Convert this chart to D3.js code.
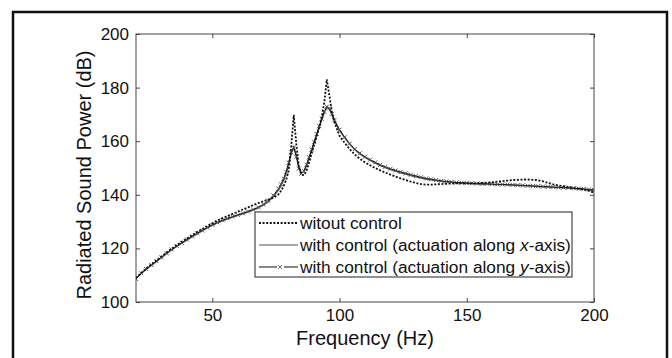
<!DOCTYPE html>
<html>
<head>
<meta charset="utf-8">
<script src="https://cdn.jsdelivr.net/npm/d3@7"></script>
<style>
  body { margin: 0; background: #fff; }
  svg { display: block; font-family: "Liberation Sans", Arial, sans-serif; }
</style>
</head>
<body>
<div id="chart"></div>
<script>
// frequency points (Hz)
const freq = [20,22,24,26,28,30,32,34,36,38,40,42,44,46,48,50,52,54,56,58,60,62,64,66,68,70,72,74,76,
  77,78,79,80,81,82,83,84,85,86,87,88,89,90,91,92,93,94,95,96,97,98,
  100,102,104,106,108,110,112,114,116,118,120,122,124,126,128,130,132,134,136,138,
  140,142,144,146,148,150,152,154,156,158,160,162,164,166,168,170,172,174,176,178,
  180,182,184,186,188,190,192,194,196,198,200];

// without control (dotted)
const noCtrl = [108.9,110.8,112.5,114.0,115.5,117.0,118.5,119.9,121.2,122.5,123.7,124.9,126.1,127.2,128.3,129.4,130.4,131.3,132.1,132.9,133.7,134.5,135.3,136.1,136.9,137.6,138.2,138.9,140.2,
  141.5,143.2,145.5,149.0,158.0,169.8,159.0,150.5,147.5,147.3,149.0,152.0,155.3,158.5,161.8,165.2,169.0,174.5,183.1,177.0,171.0,167.0,
  162.0,159.4,157.0,155.0,153.4,152.1,151.0,150.0,149.1,148.3,147.5,146.8,146.1,145.5,144.9,144.4,144.0,143.8,143.8,143.9,
  144.0,144.1,144.2,144.3,144.3,144.3,144.3,144.3,144.4,144.5,144.7,144.9,145.1,145.3,145.5,145.6,145.7,145.7,145.6,145.4,
  145.0,144.4,143.9,143.5,143.2,142.9,142.6,142.3,142.0,141.5,140.8];

// with control, actuation along x-axis
const ctrlX = [108.8,110.5,112.1,113.6,115.0,116.5,118.0,119.4,120.7,121.9,123.1,124.3,125.4,126.5,127.6,128.6,129.5,130.3,131.0,131.7,132.3,132.9,133.6,134.3,135.1,136.1,137.4,139.3,141.8,
  143.4,145.4,148.0,151.5,155.3,158.0,155.0,150.5,148.2,148.6,150.8,153.6,156.5,159.4,162.3,165.2,168.0,170.6,172.6,172.0,169.8,167.5,
  164.0,161.2,158.8,156.8,155.2,153.9,152.8,151.8,150.9,150.1,149.4,148.8,148.2,147.7,147.2,146.7,146.3,145.9,145.6,145.3,
  145.0,144.8,144.6,144.5,144.4,144.3,144.2,144.1,144.0,144.0,143.9,143.8,143.8,143.7,143.6,143.5,143.4,143.3,143.2,143.1,
  143.0,142.9,142.8,142.7,142.6,142.5,142.3,142.2,142.0,141.8,141.6];

// with control, actuation along y-axis
const ctrlY = [108.6,110.7,112.3,113.8,115.3,116.7,118.2,119.6,120.9,122.1,123.3,124.5,125.6,126.7,127.8,128.8,129.7,130.5,131.2,131.9,132.5,133.1,133.8,134.5,135.3,136.4,137.8,139.8,142.3,
  143.9,146.0,148.6,152.0,155.8,157.6,154.2,149.8,147.9,148.9,151.2,154.0,156.9,159.8,162.7,165.6,168.4,171.0,172.9,172.3,170.2,167.9,
  164.3,161.5,159.1,157.1,155.5,154.2,153.1,152.1,151.2,150.4,149.7,149.1,148.5,148.0,147.5,147.0,146.5,146.1,145.8,145.5,
  145.2,145.0,144.8,144.6,144.5,144.4,144.3,144.2,144.1,144.1,144.0,143.9,143.9,143.8,143.7,143.6,143.5,143.4,143.3,143.2,
  143.1,143.0,142.9,142.8,142.7,142.6,142.5,142.3,142.2,142.0,141.8];

const xTicks = [50, 100, 150, 200];
const yTicks = [100, 120, 140, 160, 180, 200];
const legendLabels = ["witout control", "with control (actuation along ", "with control (actuation along "];

const width = 672, height = 358;
const margin = {left: 136, top: 34, right: 78, bottom: 56};

const svg = d3.select("#chart").append("svg")
  .attr("width", width)
  .attr("height", height);

// outer frame
svg.append("rect")
  .attr("x", 13).attr("y", 12)
  .attr("width", 654).attr("height", 360)
  .attr("fill", "none")
  .attr("stroke", "#111")
  .attr("stroke-width", 2.5);

const x = d3.scaleLinear().domain([20, 200]).range([margin.left, width - margin.right]);
const y = d3.scaleLinear().domain([100, 200]).range([height - margin.bottom, margin.top]);

svg.append("clipPath").attr("id", "plot")
  .append("rect")
  .attr("x", x(20)).attr("y", y(200))
  .attr("width", x(200) - x(20)).attr("height", y(100) - y(200));

// axes, ticks inward on all four sides
svg.append("g")
  .attr("transform", `translate(0,${y(100)})`)
  .call(d3.axisBottom(x).tickValues(xTicks).tickSize(-4).tickPadding(7))
  .call(a => a.select(".domain").remove());
svg.append("g")
  .attr("transform", `translate(0,${y(200)})`)
  .call(d3.axisTop(x).tickValues(xTicks).tickSize(-4).tickFormat(""))
  .call(a => a.select(".domain").remove());
svg.append("g")
  .attr("transform", `translate(${x(20)},0)`)
  .call(d3.axisLeft(y).tickValues(yTicks).tickSize(-4).tickPadding(7))
  .call(a => a.select(".domain").remove());
svg.append("g")
  .attr("transform", `translate(${x(200)},0)`)
  .call(d3.axisRight(y).tickValues(yTicks).tickSize(-4).tickFormat(""))
  .call(a => a.select(".domain").remove());

svg.selectAll(".tick line").attr("stroke", "#444");
svg.selectAll(".tick text")
  .attr("font-size", 17)
  .attr("font-family", "'Liberation Sans', Arial, sans-serif")
  .attr("fill", "#111");

svg.append("rect")
  .attr("x", x(20)).attr("y", y(200))
  .attr("width", x(200) - x(20)).attr("height", y(100) - y(200))
  .attr("fill", "none")
  .attr("stroke", "#444")
  .attr("stroke-width", 1);

// curves
const line = (vals) => d3.line()
  .x((d, i) => x(freq[i]))
  .y(d => y(d))(vals);

const plot = svg.append("g").attr("clip-path", "url(#plot)");

plot.append("path")
  .attr("d", line(ctrlX))
  .attr("fill", "none")
  .attr("stroke", "#555")
  .attr("stroke-width", 1.3);

plot.append("path")
  .attr("d", line(ctrlY))
  .attr("fill", "none")
  .attr("stroke", "#111")
  .attr("stroke-width", 1);

const mk = 2;
const cross = (cx, cy) => `M${cx - mk},${cy - mk}L${cx + mk},${cy + mk}M${cx - mk},${cy + mk}L${cx + mk},${cy - mk}`;
plot.append("g")
  .selectAll("path")
  .data(ctrlY)
  .join("path")
  .attr("d", (d, i) => cross(x(freq[i]), y(d)))
  .attr("stroke", "#555")
  .attr("stroke-width", 1);

plot.append("path")
  .attr("d", line(noCtrl))
  .attr("fill", "none")
  .attr("stroke", "#111")
  .attr("stroke-width", 1.8)
  .attr("stroke-dasharray", "2,1.6");

// legend
const lg = svg.append("g");
lg.append("rect")
  .attr("x", 255).attr("y", 212)
  .attr("width", 317).attr("height", 65)
  .attr("fill", "#fff")
  .attr("stroke", "#222")
  .attr("stroke-width", 1);

const rowY = [223, 245, 267];
lg.append("line")
  .attr("x1", 259).attr("x2", 298).attr("y1", rowY[0]).attr("y2", rowY[0])
  .attr("stroke", "#111").attr("stroke-width", 1.8).attr("stroke-dasharray", "2,1.6");
lg.append("line")
  .attr("x1", 259).attr("x2", 298).attr("y1", rowY[1]).attr("y2", rowY[1])
  .attr("stroke", "#555").attr("stroke-width", 1.2);
lg.append("line")
  .attr("x1", 259).attr("x2", 277).attr("y1", rowY[2]).attr("y2", rowY[2])
  .attr("stroke", "#111").attr("stroke-width", 1);
lg.append("line")
  .attr("x1", 284).attr("x2", 298).attr("y1", rowY[2]).attr("y2", rowY[2])
  .attr("stroke", "#111").attr("stroke-width", 1);
lg.append("path")
  .attr("d", cross(280, rowY[2]))
  .attr("stroke", "#666").attr("stroke-width", 0.9);

const italicPart = [null, "x", "y"];
legendLabels.forEach((t, i) => {
  const tx = lg.append("text")
    .attr("x", 300).attr("y", rowY[i])
    .attr("dy", "0.36em")
    .attr("font-size", 17.3)
    .attr("fill", "#111")
    .text(t);
  if (italicPart[i]) {
    tx.append("tspan").attr("font-style", "italic").text(italicPart[i]);
    tx.append("tspan").text("-axis)");
  }
});

// axis titles
svg.append("text")
  .attr("x", x(110)).attr("y", 345)
  .attr("text-anchor", "middle")
  .attr("font-size", 20)
  .attr("fill", "#111")
  .text("Frequency (Hz)");

svg.append("text")
  .attr("transform", `translate(91,175) rotate(-90)`)
  .attr("text-anchor", "middle")
  .attr("font-size", 20)
  .attr("fill", "#111")
  .text("Radiated Sound Power (dB)");
</script>
</body>
</html>
